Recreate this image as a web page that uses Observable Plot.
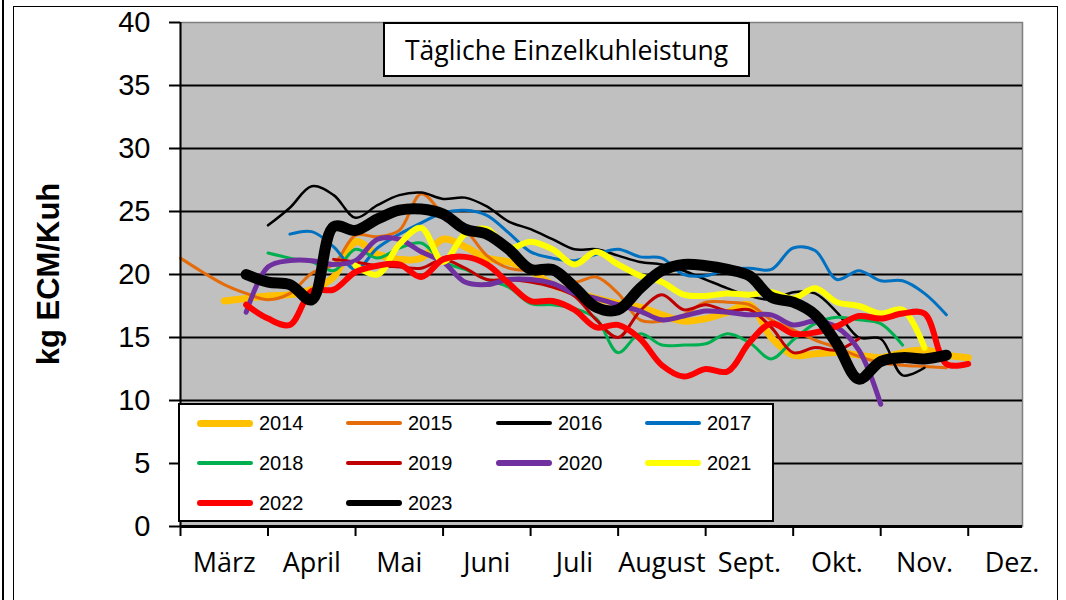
<!DOCTYPE html>
<html>
<head>
<meta charset="utf-8">
<script src="https://cdn.jsdelivr.net/npm/d3@7"></script>
<script src="https://cdn.jsdelivr.net/npm/@observablehq/plot@0.6"></script>
<style>
  body { margin: 0; background: #fff; }
  #wrap { position: relative; width: 1066px; height: 600px; overflow: hidden; background: #fff; }
  #wrap svg { position: absolute; left: 0; top: 0; }
  .outer { position: absolute; left: 13px; top: 6px; width: 1045px; height: 640px; border: 1.5px solid #000; box-sizing: border-box; }
  .outerL { position: absolute; left: 2px; top: 0; width: 1.5px; height: 600px; background: #000; }
  .titel { position: absolute; left: 383px; top: 22px; width: 367px; height: 55px; box-sizing: border-box;
           border: 2px solid #000; background: #fff; font-family: "Open Sans", sans-serif; font-size: 26.5px;
           display: flex; align-items: center; justify-content: center; color: #000; }
  .legende { position: absolute; left: 178px; top: 403px; width: 596px; height: 119px; box-sizing: border-box;
             border: 2px solid #000; background: #fff; }
  .leg-item { position: absolute; height: 24px; display: flex; align-items: center; }
  .leg-line { width: 56px; border-radius: 4px; margin-right: 6px; }
  .leg-text { font-family: "Liberation Sans", Arial, sans-serif; font-size: 20px; color: #000; }
</style>
</head>
<body>
<div id="wrap"></div>
<script>
// ---- Daten ----
const monate = ["März", "April", "Mai", "Juni", "Juli", "August", "Sept.", "Okt.", "Nov.", "Dez."];
const monatsGrenzen = [0, 1, 2, 3, 4, 5, 6, 7, 8, 9];
const monatsMitten = [0.5, 1.5, 2.5, 3.5, 4.5, 5.5, 6.5, 7.5, 8.5, 9.5];
const yTicks = [0, 5, 10, 15, 20, 25, 30, 35, 40];
const yGitter = [5, 10, 15, 20, 25, 30, 35];
// Zeitachse in Monaten ab 1. März (Wochenraster)
const zeit = [0, 0.25, 0.5, 0.75, 1, 1.25, 1.5, 1.75, 2, 2.25, 2.5, 2.75, 3, 3.25, 3.5, 3.75, 4, 4.25, 4.5, 4.75,
              5, 5.25, 5.5, 5.75, 6, 6.25, 6.5, 6.75, 7, 7.25, 7.5, 7.75, 8, 8.25, 8.5, 8.75, 9];

const jahre = ["2014", "2015", "2016", "2017", "2018", "2019", "2020", "2021", "2022", "2023"];
const farben = ["#ffc000", "#e46c0a", "#000000", "#0070c0", "#00b050", "#c00000", "#7030a0", "#ffff00", "#ff0000", "#000000"];
const linienStaerke = [7, 3, 2.5, 3, 3, 3, 5, 6, 6, 11];
const legendenStaerke = [7, 4, 4, 3.5, 3.5, 3.5, 6, 6, 6, 6];

const w2014 = [null, null, 17.9, 18.1, 18.3, 18.4, 18.8, 19.8, 22.6, 21.6, 21.2, 21.3, 22.8, 22.2, 21.3, 21.0, 20.3, 19.2, 18.6, 18.1,
               17.7, 17.4, 16.8, 16.3, 16.5, 17.0, 17.6, 15.0, 13.6, 13.7, 13.8, 13.6, 13.4, 13.8, 14.0, 13.6, 13.4];
const w2015 = [21.3, 20.2, 19.2, 18.5, 18.0, 18.5, 20.1, 20.8, 23.1, 23.0, 23.5, 26.4, 24.8, 23.6, 21.5, 20.5, 20.3, 20.2, 19.4, 19.8,
               18.5, 16.4, 16.3, 16.8, 17.8, 17.8, 17.6, 16.4, 15.6, 14.8, 14.2, 13.5, 13.0, 12.8, 12.7, 12.6, null];
const w2016 = [null, null, null, null, 23.9, 25.3, 27.0, 26.3, 24.5, 25.5, 26.3, 26.5, 26.0, 26.1, 25.4, 24.2, 23.6, 22.8, 22.0, 22.0,
               21.5, 21.0, 20.8, 20.3, 19.6, 18.9, 18.3, 18.0, 18.6, 18.5, 17.0, 15.0, 14.9, 12.0, 12.6, null, null];
const w2017 = [null, null, null, null, null, 23.2, 23.4, 22.2, 20.4, 22.1, 23.2, 24.1, 24.9, 25.1, 24.7, 23.3, 21.8, 21.3, 21.1, 21.6,
               22.0, 21.4, 21.3, 20.0, 19.9, 20.4, 20.5, 20.4, 22.1, 21.9, 19.6, 20.3, 19.5, 19.5, 18.5, 16.8, null];
const w2018 = [null, null, null, null, 21.7, 21.3, 21.0, 20.3, 22.0, 21.3, 22.1, 22.5, 21.0, 20.4, 19.6, 19.0, 17.7, 17.6, 17.3, 16.5,
               13.8, 15.3, 14.4, 14.4, 14.5, 15.3, 14.6, 13.3, 14.8, 16.1, 16.6, 16.4, 16.1, 14.4, null, null, null];
const w2019 = [null, null, null, null, null, null, null, 21.2, 21.0, 20.7, 20.6, 20.5, 21.2, 20.5, 19.6, 19.6, 19.4, 19.0, 18.3, 16.4,
               15.0, 17.1, 18.4, 17.2, 17.6, 17.1, 17.2, 15.8, 13.8, 14.2, 14.0, 14.9, null, null, null, null, null];
const w2020 = [null, null, null, 17.0, 20.6, 21.1, 21.1, 20.8, 21.1, 22.8, 22.8, 21.8, 21.0, 19.4, 19.2, 19.6, 19.6, 19.3, 18.5, 18.1,
               17.6, 17.1, 16.4, 16.7, 17.1, 17.0, 16.8, 16.8, 16.0, 16.3, 15.8, 14.0, 9.7, null, null, null, null];
const w2021 = [null, null, null, null, null, null, null, null, 20.7, 20.0, 22.4, 23.7, 21.0, 23.2, 23.6, 22.1, 22.6, 22.0, 20.8, 21.8,
               20.8, 19.9, 19.4, 18.4, 18.3, 18.5, 18.4, 18.6, 18.1, 18.9, 17.8, 17.5, 16.9, 17.2, 14.2, null, null];
const w2022 = [null, null, null, 17.6, 16.5, 16.0, 18.7, 18.8, 20.2, 20.7, 20.8, 19.8, 21.2, 21.4, 20.8, 19.3, 17.9, 17.9, 17.2, 15.8,
               16.0, 14.9, 12.8, 11.9, 12.5, 12.3, 14.6, 16.1, 15.3, 15.4, 15.9, 16.7, 16.5, 16.9, 16.9, 12.9, 12.9];
const w2023 = [null, null, null, 20.0, 19.4, 19.2, 18.0, 23.8, 23.5, 24.4, 25.1, 25.2, 24.8, 23.6, 23.2, 22.0, 20.4, 20.4, 19.0, 17.4,
               17.2, 18.9, 20.3, 20.8, 20.7, 20.4, 19.9, 18.2, 17.8, 16.8, 14.5, 11.7, 13.1, 13.4, 13.3, 13.6, null];

const reihen = [w2014, w2015, w2016, w2017, w2018, w2019, w2020, w2021, w2022, w2023];

// ---- Tabelle ----
const tabelle = [];
jahre.forEach((j, k) => {
  reihen[k].forEach((v, i) => { if (v != null) tabelle.push({ jahr: j, t: zeit[i], wert: v }); });
});

const linien = jahre.map((j, k) =>
  Plot.line(tabelle.filter(d => d.jahr === j), {
    x: "t", y: "wert", stroke: farben[k], strokeWidth: linienStaerke[k],
    curve: "catmull-rom", strokeLinejoin: "round", strokeLinecap: "round"
  })
);

const chart = Plot.plot({
  width: 1066,
  height: 600,
  marginLeft: 180,
  marginRight: 44,
  marginTop: 22,
  marginBottom: 74,
  style: { background: "transparent", color: "#000", overflow: "visible" },
  x: { domain: [0, 9.62], axis: null, label: null },
  y: { domain: [0, 40], axis: null, label: null },
  marks: [
    Plot.frame({ fill: "#c0c0c0", stroke: "#7f7f7f", strokeWidth: 1.5 }),
    Plot.gridY(yGitter, { stroke: "#000", strokeOpacity: 1, strokeWidth: 2 }),
    ...linien,
    Plot.ruleX([0], { stroke: "#000", strokeWidth: 2 }),
    Plot.axisY(yTicks, {
      label: null, tickSize: 11, tickPadding: 19, fontSize: 29, strokeWidth: 2,
      fontFamily: "Liberation Sans, Arial, sans-serif", tickFormat: d => String(d)
    }),
    Plot.axisX(monatsGrenzen, { label: null, tickSize: 10, strokeWidth: 2, tickFormat: () => "" }),
    Plot.axisX(monatsMitten, {
      label: null, tickSize: 0, tickPadding: 26, fontSize: 27,
      fontFamily: "Open Sans, sans-serif", tickFormat: d => monate[Math.floor(d)]
    }),
    Plot.ruleY([0], { stroke: "#000", strokeWidth: 3 })
  ]
});

const wrap = document.getElementById("wrap");

const au = document.createElement("div"); au.className = "outerL"; wrap.appendChild(au);
const ob = document.createElement("div"); ob.className = "outer"; wrap.appendChild(ob);
wrap.appendChild(chart);

// y-Achsentitel
d3.select(chart).append("text")
  .attr("transform", "translate(48,274) rotate(-90)")
  .attr("text-anchor", "middle")
  .attr("dy", "0.35em")
  .attr("font-family", "Liberation Sans, Arial, sans-serif")
  .attr("font-weight", "bold")
  .attr("font-size", 31)
  .attr("fill", "#000")
  .text("kg ECM/Kuh");

// Titel
const titel = document.createElement("div");
titel.className = "titel";
titel.textContent = "Tägliche Einzelkuhleistung";
wrap.appendChild(titel);

// Legende
const leg = document.createElement("div");
leg.className = "legende";
const spaltenX = [17, 166, 316, 465];
const zeilenY = [6, 46, 86];
jahre.forEach((j, k) => {
  const item = document.createElement("div");
  item.className = "leg-item";
  item.style.left = spaltenX[k % 4] + "px";
  item.style.top = zeilenY[Math.floor(k / 4)] + "px";
  const l = document.createElement("div");
  l.className = "leg-line";
  l.style.height = legendenStaerke[k] + "px";
  l.style.background = farben[k];
  const t = document.createElement("span");
  t.className = "leg-text";
  t.textContent = j;
  item.appendChild(l); item.appendChild(t);
  leg.appendChild(item);
});
wrap.appendChild(leg);
</script>
</body>
</html>
